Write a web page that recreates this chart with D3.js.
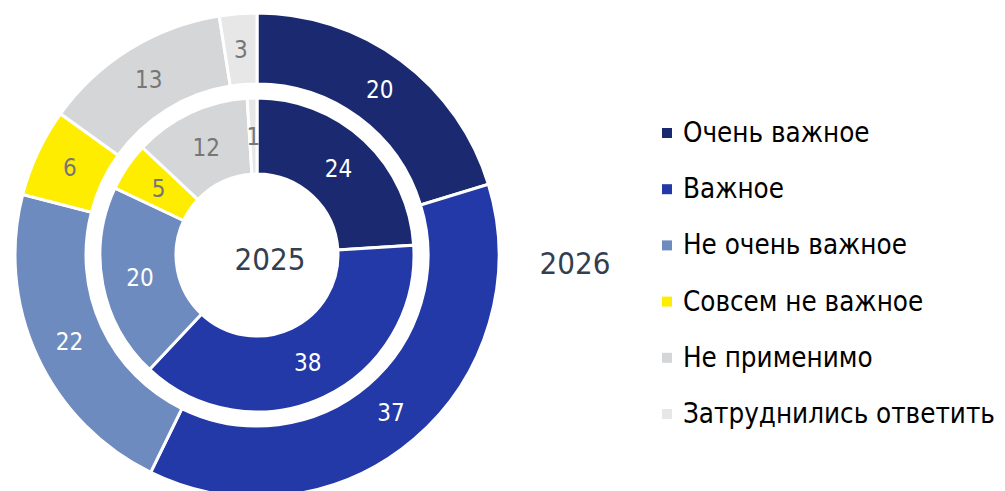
<!DOCTYPE html>
<html>
<head>
<meta charset="utf-8">
<script src="https://cdn.jsdelivr.net/npm/d3@7"></script>
<style>
  body { margin: 0; background: #fff; }
  svg { display: block; font-family: "DejaVu Sans Condensed", "DejaVu Sans", sans-serif; }
</style>
</head>
<body>
<div id="chart"></div>
<script>
const categories = ['Очень важное', 'Важное', 'Не очень важное', 'Совсем не важное', 'Не применимо', 'Затруднились ответить'];
// shares; labels are the rounded numbers printed on the chart
const values2025 = [24, 38, 20, 5, 12, 1];
const labels2025 = [24, 38, 20, 5, 12, 1];
const values2026 = [20.3, 37.0, 21.8, 5.9, 12.6, 2.5];
const labels2026 = [20, 37, 22, 6, 13, 3];
const colors = ['#1b2a70', '#2339a8', '#6e8bbf', '#ffed00', '#d5d6d8', '#e7e7e8'];
const labelColors = ['#fff', '#fff', '#fff', '#767676', '#767676', '#767676'];

const width = 1005;
const height = 491;
const cx = 257, cy = 255;

const svg = d3.select('#chart')
  .append('svg')
  .attr('width', width)
  .attr('height', height);

const pie = d3.pie().sort(null).value((d) => d);

function drawRing(values, labels, inner, outer) {
  const arc = d3.arc().innerRadius(inner).outerRadius(outer);
  const g = svg.append('g').attr('transform', `translate(${cx}, ${cy})`);
  const arcs = pie(values);

  g.selectAll('path')
    .data(arcs)
    .join('path')
    .attr('d', arc)
    .attr('fill', (d, i) => colors[i])
    .attr('stroke', '#fff')
    .attr('stroke-width', 3);

  g.selectAll('text')
    .data(arcs)
    .join('text')
    .attr('transform', (d) => `translate(${arc.centroid(d)})`)
    .attr('text-anchor', 'middle')
    .attr('dy', '0.36em')
    .attr('font-size', 24)
    .attr('fill', (d, i) => labelColors[i])
    .text((d, i) => labels[i]);
}

drawRing(values2025, labels2025, 81, 157);
drawRing(values2026, labels2026, 171, 242);

// year captions
svg.append('text')
  .attr('x', 270).attr('y', 259)
  .attr('text-anchor', 'middle').attr('dy', '0.36em')
  .attr('font-size', 31).attr('fill', '#333f4f')
  .text('2025');

svg.append('text')
  .attr('x', 575).attr('y', 263)
  .attr('text-anchor', 'middle').attr('dy', '0.36em')
  .attr('font-size', 31).attr('fill', '#333f4f')
  .text('2026');

// legend
const legend = svg.append('g').attr('transform', 'translate(662, 132)');
const rows = legend.selectAll('g')
  .data(categories)
  .join('g')
  .attr('transform', (d, i) => `translate(0, ${i * 56.2})`);

rows.append('rect')
  .attr('x', 0).attr('y', -4)
  .attr('width', 10).attr('height', 10)
  .attr('fill', (d, i) => colors[i]);

rows.append('text')
  .attr('x', 21).attr('y', 0)
  .attr('dy', '0.36em')
  .attr('font-size', 27.5)
  .attr('fill', '#000')
  .text((d) => d);
</script>
</body>
</html>
